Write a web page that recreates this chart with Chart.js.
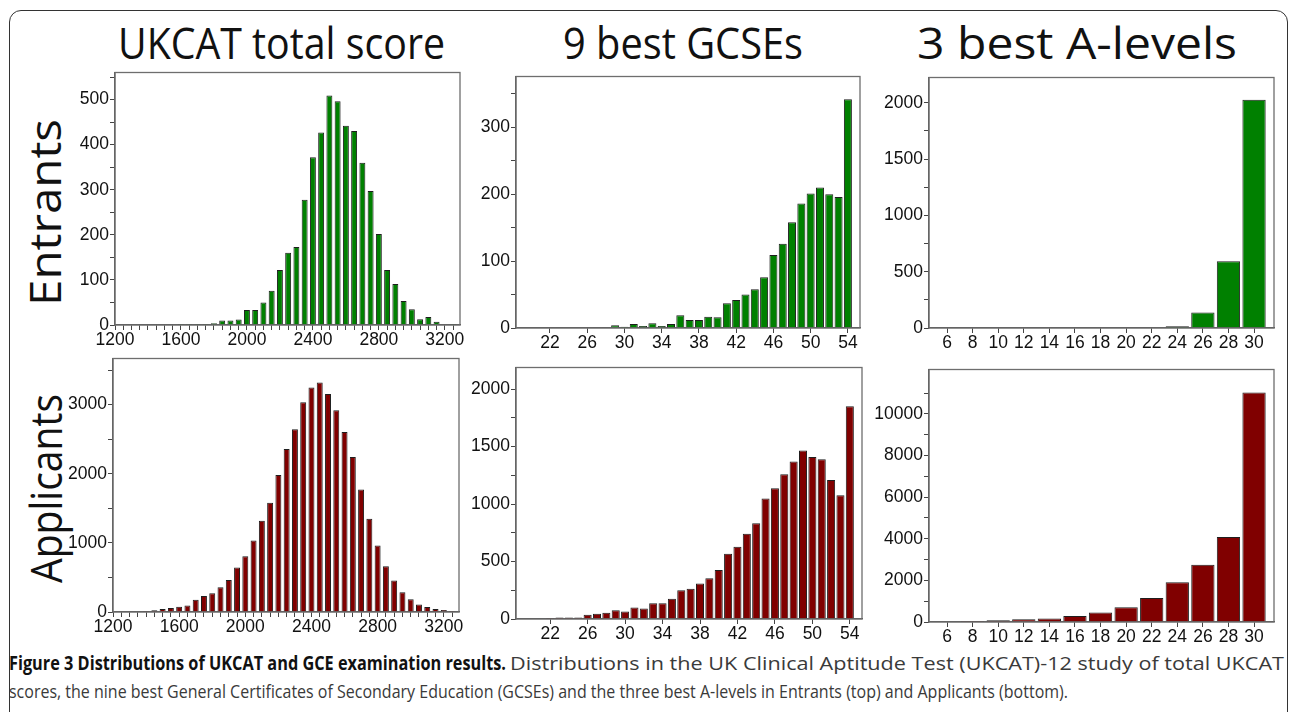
<!DOCTYPE html>
<html>
<head>
<meta charset="utf-8">
<script src="https://cdn.jsdelivr.net/npm/chart.js@4.4.1/dist/chart.umd.min.js"></script>
<style>
  body { margin: 0; width: 1290px; height: 712px; overflow: hidden; position: relative; background: #fff; font-family: "Open Sans", sans-serif; }
  #frame { position: absolute; left: 9px; top: 10px; width: 1279px; height: 730px; border: 1.5px solid #333; border-radius: 12px; box-sizing: border-box; }
  .big { position: absolute; font-size: 43px; line-height: 1; color: #111; white-space: nowrap; }
  .title { transform-origin: 0 0; }
  .row { transform-origin: 50% 50%; }
  .cap { position: absolute; font-size: 19px; line-height: 1; white-space: nowrap; color: #3a3a3a; transform-origin: 0 0; }
  .capb { font-weight: bold; color: #111; }
  canvas { position: absolute; }
</style>
</head>
<body>
<div id="frame"></div>

<div class="big title" id="t1" style="left:118px;top:21px">UKCAT total score</div>
<div class="big title" id="t2" style="left:563px;top:21px">9 best GCSEs</div>
<div class="big title" id="t3" style="left:917px;top:21px">3 best A-levels</div>

<div class="big row" id="r1">Entrants</div>
<div class="big row" id="r2">Applicants</div>

<div class="cap capb" id="c1b" style="left:9px;top:654px">Figure 3 Distributions of UKCAT and GCE examination results.</div>
<div class="cap" id="c1" style="left:510px;top:654px">Distributions in the UK Clinical Aptitude Test (UKCAT)-12 study of total UKCAT</div>
<div class="cap" id="c2" style="left:9px;top:682px">scores, the nine best General Certificates of Secondary Education (GCSEs) and the three best A-levels in Entrants (top) and Applicants (bottom).</div>

<script>
// UKCAT total score bins (bin centres)
const ukcatBins = [1200, 1250, 1300, 1350, 1400, 1450, 1500, 1550, 1600, 1650, 1700, 1750, 1800, 1850, 1900, 1950,
  2000, 2050, 2100, 2150, 2200, 2250, 2300, 2350, 2400, 2450, 2500, 2550, 2600, 2650, 2700, 2750,
  2800, 2850, 2900, 2950, 3000, 3050, 3100, 3150, 3200, 3250];
const ukcatEntrants = [0, 0, 0, 0, 0, 0, 0, 0, 2, 2, 2, 2, 4, 10, 10, 12,
  33, 33, 50, 76, 122, 160, 173, 278, 372, 427, 509, 496, 442, 430, 360, 297,
  202, 122, 91, 53, 35, 13, 18, 7, 0, 2];
const ukcatApplicants = [0, 10, 10, 10, 15, 25, 43, 57, 76, 95, 176, 233, 271, 357, 462, 643,
  805, 1033, 1319, 1581, 1981, 2357, 2643, 3033, 3248, 3319, 3152, 2919, 2605, 2243, 1771, 1348,
  962, 662, 457, 286, 186, 110, 71, 43, 29, 15];
const ukcatTickLabels = [1200, 1600, 2000, 2400, 2800, 3200];

// 9 best GCSEs
const gcseScores = [20, 21, 22, 23, 24, 25, 26, 27, 28, 29, 30, 31, 32, 33, 34, 35, 36, 37,
  38, 39, 40, 41, 42, 43, 44, 45, 46, 47, 48, 49, 50, 51, 52, 53, 54];
const gcseEntrants = [0, 0, 1, 1, 0, 0, 0, 1, 1, 4, 2, 6, 3, 7, 3, 6, 19, 12,
  12, 17, 16, 37, 42, 50, 58, 76, 109, 126, 158, 186, 201, 210, 200, 196, 342];
const gcseApplicants = [5, 5, 8, 12, 12, 12, 37, 46, 54, 77, 66, 100, 91, 137, 137, 177, 251, 263,
  309, 354, 426, 569, 629, 743, 834, 1049, 1137, 1260, 1371, 1466, 1409, 1391, 1209, 1077, 1851];
const gcseTickLabels = [22, 26, 30, 34, 38, 42, 46, 50, 54];

// 3 best A-levels
const alevelScores = [6, 8, 10, 12, 14, 16, 18, 20, 22, 24, 26, 28, 30];
const alevelEntrants = [0, 0, 0, 0, 0, 0, 0, 0, 0, 15, 137, 592, 2026];
const alevelApplicants = [0, 47, 79, 127, 174, 285, 459, 712, 1155, 1915, 2753, 4082, 11028];
const alevelTickLabels = [6, 8, 10, 12, 14, 16, 18, 20, 22, 24, 26, 28, 30];

const GREEN = "#008000";
const RED = "#800000";

function range(a, b, step) {
  const out = [];
  for (let v = a; v <= b + 1e-9; v += step) out.push(v);
  return out;
}

const frameBox = {
  id: "frameBox",
  afterDatasetsDraw(chart) {
    const { ctx, chartArea: a } = chart;
    ctx.save();
    ctx.strokeStyle = "#6e6e6e";
    ctx.lineWidth = 1.3;
    ctx.strokeRect(a.left, a.top, a.right - a.left, a.bottom - a.top);
    ctx.restore();
  },
};

const tickFont = { family: "Liberation Sans", size: 17.5 };

function drawPanel(box, xs, ys, color, xo, yo) {
  const padL = 76, padT = 8, padR = 12, padB = 34;
  const w = box.r - box.l + padL + padR;
  const h = box.b - box.t + padT + padB;
  const cv = document.createElement("canvas");
  cv.width = w;
  cv.height = h;
  cv.style.left = box.l - padL + "px";
  cv.style.top = box.t - padT + "px";
  cv.style.width = w + "px";
  cv.style.height = h + "px";
  document.body.appendChild(cv);

  new Chart(cv, {
    type: "bar",
    data: {
      datasets: [{
        data: xs.map((v, i) => ({ x: v, y: ys[i] })),
        backgroundColor: color,
        borderColor: "#1e1e1e",
        borderWidth: 1,
        categoryPercentage: 1,
        barPercentage: xo.bar,
      }],
    },
    options: {
      responsive: false,
      animation: false,
      devicePixelRatio: 1,
      layout: { padding: { top: padT, right: padR, left: 0, bottom: 0 } },
      plugins: { legend: { display: false }, tooltip: { enabled: false } },
      scales: {
        x: {
          type: "linear",
          offset: false,
          min: xo.min,
          max: xo.max,
          afterBuildTicks: (s) => { s.ticks = xo.ticks.map((v) => ({ value: v })); },
          afterFit: (s) => { s.height = padB; },
          ticks: {
            autoSkip: false, maxRotation: 0, padding: 0, font: tickFont, color: "#111",
            callback: (v) => (xo.labels.includes(v) ? String(v) : ""),
          },
          grid: { offset: false, drawOnChartArea: false, tickLength: 5, tickColor: "#444" },
          border: { display: true, color: "#555", width: 1.3 },
        },
        y: {
          min: 0,
          max: yo.max,
          afterBuildTicks: (s) => { s.ticks = range(0, yo.top, yo.minor).map((v) => ({ value: v })); },
          afterFit: (s) => { s.width = padL; },
          ticks: {
            autoSkip: false, padding: 1, font: tickFont, color: "#111",
            callback: (v) => (v % yo.major === 0 ? String(v) : ""),
          },
          grid: { drawOnChartArea: false, tickLength: 5, tickColor: "#444" },
          border: { display: true, color: "#555", width: 1.3 },
        },
      },
    },
    plugins: [frameBox],
  });
}

const ukcatX = { min: 1200, max: 3292, ticks: range(1200, 3250, 50), labels: ukcatTickLabels, bar: 0.72 };
const gcseX = { min: 18.35, max: 55.3, ticks: gcseTickLabels, labels: gcseTickLabels, bar: 0.86 };
const alevelX = { min: 4.59, max: 31.56, ticks: alevelTickLabels, labels: alevelTickLabels, bar: 0.91 };

drawPanel({ l: 115, r: 460, t: 69, b: 325 }, ukcatBins, ukcatEntrants, GREEN, ukcatX,
  { max: 560, top: 550, minor: 50, major: 100 });
drawPanel({ l: 516, r: 860, t: 73, b: 328 }, gcseScores, gcseEntrants, GREEN, gcseX,
  { max: 376, top: 350, minor: 50, major: 100 });
drawPanel({ l: 929, r: 1274, t: 74, b: 328 }, alevelScores, alevelEntrants, GREEN, alevelX,
  { max: 2224, top: 2000, minor: 250, major: 500 });

drawPanel({ l: 113, r: 459, t: 355, b: 612 }, ukcatBins, ukcatApplicants, RED, ukcatX,
  { max: 3667, top: 3500, minor: 500, major: 1000 });
drawPanel({ l: 516, r: 862, t: 364, b: 619 }, gcseScores, gcseApplicants, RED, gcseX,
  { max: 2189, top: 2000, minor: 250, major: 500 });
drawPanel({ l: 929, r: 1274, t: 366, b: 622 }, alevelScores, alevelApplicants, RED, alevelX,
  { max: 12136, top: 11000, minor: 1000, major: 2000 });

// squeeze text to the widths measured on the figure
function fitWidth(id, target) {
  const el = document.getElementById(id);
  const w = el.getBoundingClientRect().width;
  el.style.transform = "scaleX(" + target / w + ")";
}

function placeRow(id, cx, cy, len) {
  const el = document.getElementById(id);
  const r = el.getBoundingClientRect();
  el.style.left = cx - r.width / 2 + "px";
  el.style.top = cy - r.height / 2 + "px";
  el.style.transform = "rotate(-90deg) scaleX(" + len / r.width + ")";
}

document.fonts.ready.then(() => {
  fitWidth("t1", 327);
  fitWidth("t2", 240);
  fitWidth("t3", 320);
  placeRow("r1", 45, 212, 187);
  placeRow("r2", 45, 488, 189);
  fitWidth("c1b", 497);
  fitWidth("c1", 774);
  fitWidth("c2", 1059);
});
</script>
</body>
</html>
